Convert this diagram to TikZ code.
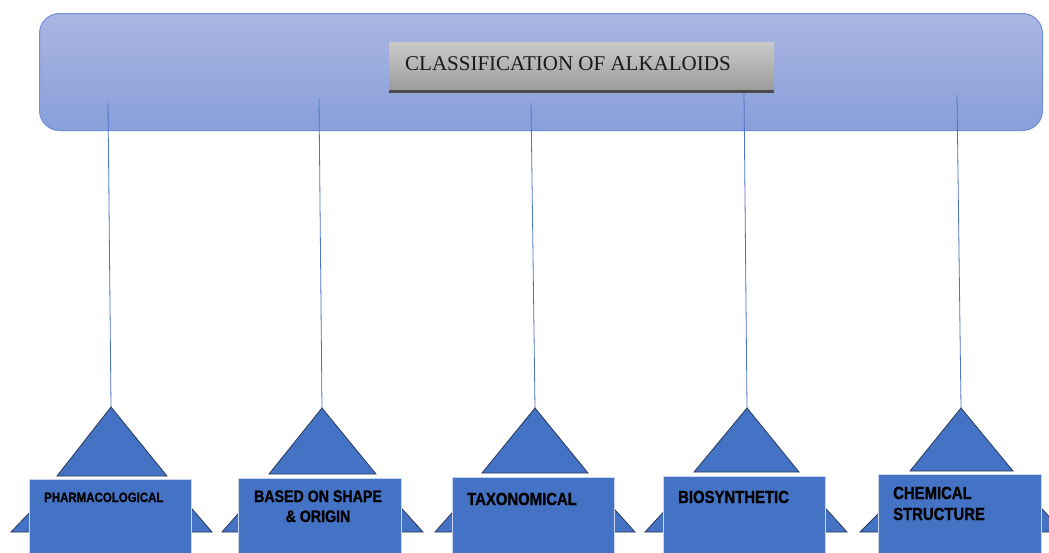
\documentclass[tikz,border=0pt]{standalone}
\usepackage{fontspec}
\setmainfont{Liberation Serif}
\newfontfamily\boxfont[FakeStretch=0.85,FakeBold=1.2]{Liberation Sans}
\definecolor{topfillA}{HTML}{AAB6E1}
\definecolor{topfillB}{HTML}{889FDA}
\definecolor{topedge}{HTML}{6E8FD8}
\definecolor{titleA}{HTML}{CACACA}
\definecolor{titleB}{HTML}{9C9C9C}
\definecolor{shadowgray}{HTML}{4A4A4A}
\definecolor{catblue}{HTML}{4472C4}
\definecolor{catedge}{HTML}{C9D6F2}
\definecolor{triedge}{HTML}{2B3A58}
\definecolor{linkblue}{HTML}{4A74C8}
\tikzset{
  topbox/.style={draw=topedge, line width=1pt, rounded corners=20pt, top color=topfillA, bottom color=topfillB, inner sep=0pt},
  titlebox/.style={top color=titleA, bottom color=titleB, inner sep=0pt},
  catbox/.style={fill=catblue, draw=catedge, line width=0.8pt, inner sep=0pt},
  tri/.style={fill=catblue, draw=triedge, line width=0.8pt, line join=miter},
  conn/.style={draw=linkblue, line width=0.8pt},
  cattext/.style={inner sep=0pt, text=black, font=\boxfont\bfseries\fontsize{17.5}{20}\selectfont},
}
\begin{document}
\begin{tikzpicture}[x=1pt,y=-1pt]
\clip (0,0) rectangle (1049,552);
\fill[white] (0,0) rectangle (1049,552);
% top banner
\node[topbox, minimum width=1003pt, minimum height=117pt, anchor=north west] (top) at (39,13) {};
% connectors
\coordinate (s1) at (108,103); \coordinate (a1) at (111,407);
\coordinate (s2) at (319,99);  \coordinate (a2) at (322,408);
\coordinate (s3) at (531,103); \coordinate (a3) at (535,408);
\coordinate (s4) at (744,92);  \coordinate (a4) at (747,408);
\coordinate (s5) at (957,95);  \coordinate (a5) at (961,408);
\foreach \i in {1,...,5} { \draw[conn] (s\i) -- (a\i); }
% title
\fill[shadowgray] (389,89) rectangle (774,93);
\node[titlebox, minimum width=385pt, minimum height=47pt, anchor=north west] (title) at (389,42) {};
\node[anchor=base west, inner sep=0pt, text=black!90, font=\fontsize{21}{24}\selectfont] (titletext) at (405,70) {CLASSIFICATION OF ALKALOIDS};
% upper triangles
\filldraw[tri] (a1) -- (57,476) -- (167,476) -- cycle;
\filldraw[tri] (a2) -- (269,474) -- (376,474) -- cycle;
\filldraw[tri] (a3) -- (482,473) -- (588,473) -- cycle;
\filldraw[tri] (a4) -- (694,472) -- (799,472) -- cycle;
\filldraw[tri] (a5) -- (910,471) -- (1013,471) -- cycle;
% small side triangles
\filldraw[tri] (11,532) -- (35,507) -- (35,532) -- cycle;
\filldraw[tri] (212,532) -- (187,503) -- (187,532) -- cycle;
\filldraw[tri] (222,532) -- (244,507) -- (244,532) -- cycle;
\filldraw[tri] (423,532) -- (395,501) -- (395,532) -- cycle;
\filldraw[tri] (435,532) -- (458,506) -- (458,532) -- cycle;
\filldraw[tri] (635,532) -- (608,502) -- (608,532) -- cycle;
\filldraw[tri] (645,532) -- (669,506) -- (669,532) -- cycle;
\filldraw[tri] (847,532) -- (819,501) -- (819,532) -- cycle;
\filldraw[tri] (860,532) -- (884,508) -- (884,532) -- cycle;
\filldraw[tri] (1063,532) -- (1035,501) -- (1035,532) -- cycle;
% category boxes
\node[catbox, minimum width=162pt, minimum height=100pt, anchor=north west] (r1) at (29,479) {};
\node[catbox, minimum width=163pt, minimum height=100pt, anchor=north west] (r2) at (238,478) {};
\node[catbox, minimum width=162pt, minimum height=100pt, anchor=north west] (r3) at (452,477) {};
\node[catbox, minimum width=162pt, minimum height=100pt, anchor=north west] (r4) at (663,476) {};
\node[catbox, minimum width=163pt, minimum height=100pt, anchor=north west] (r5) at (878,474) {};
% labels
\node[cattext, font=\boxfont\bfseries\fontsize{13.5}{16}\selectfont, anchor=base west] (t1) at (44,502) {PHARMACOLOGICAL};
\node[cattext, font=\boxfont\bfseries\fontsize{16.7}{20}\selectfont, anchor=base] (t2a) at (318,502) {BASED ON SHAPE};
\node[cattext, font=\boxfont\bfseries\fontsize{16.7}{20}\selectfont, anchor=base] (t2b) at (318,522) {\& ORIGIN};
\node[cattext, anchor=base west] (t3) at (467,505) {TAXONOMICAL};
\node[cattext, anchor=base west] (t4) at (678,503) {BIOSYNTHETIC};
\node[cattext, anchor=base west] (t5a) at (893,499) {CHEMICAL};
\node[cattext, anchor=base west] (t5b) at (893,520) {STRUCTURE};
\end{tikzpicture}
\end{document}
